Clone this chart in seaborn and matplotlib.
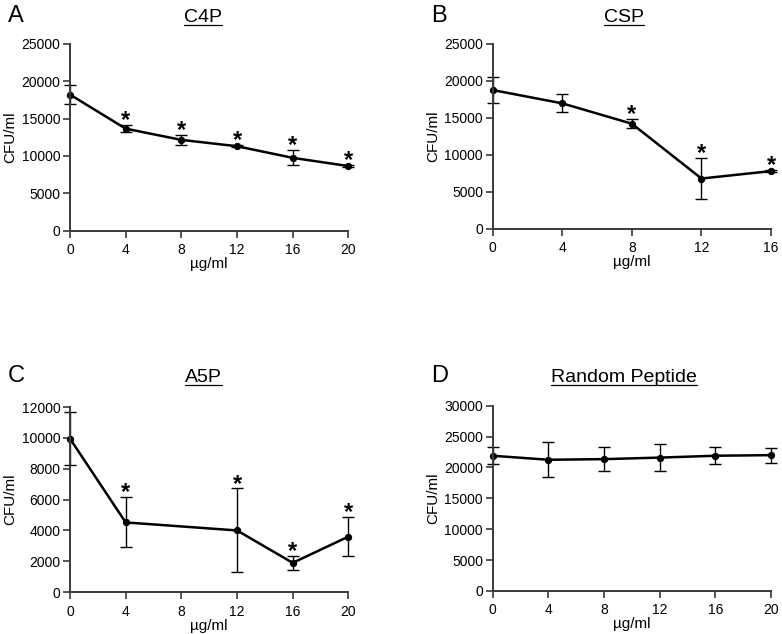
import matplotlib
matplotlib.use("Agg")
import matplotlib.pyplot as plt
import seaborn as sns
import pandas as pd
from matplotlib.lines import Line2D

sns.set_style("ticks")
plt.rcParams["font.family"] = ["Liberation Sans", "DejaVu Sans"]
plt.rcParams["text.color"] = "black"
plt.rcParams["axes.labelcolor"] = "black"

# panel A - C4P
c4p_dose = [0, 4, 8, 12, 16, 20]
c4p_cfu = [18200, 13650, 12150, 11300, 9750, 8650]
c4p_err = [1300, 450, 650, 150, 1000, 100]
c4p_sig = [False, True, True, True, True, True]

# panel B - CSP
csp_dose = [0, 4, 8, 12, 16]
csp_cfu = [18750, 16950, 14200, 6800, 7800]
csp_err = [1800, 1200, 600, 2750, 100]
csp_sig = [False, False, True, True, True]

# panel C - A5P
a5p_dose = [0, 4, 12, 16, 20]
a5p_cfu = [9950, 4520, 4000, 1900, 3600]
a5p_err = [1700, 1620, 2720, 470, 1270]
a5p_sig = [False, True, True, True, True]

# panel D - random peptide
rnd_dose = [0, 4, 8, 12, 16, 20]
rnd_cfu = [21900, 21250, 21350, 21600, 21900, 22000]
rnd_err = [1400, 2800, 2000, 2200, 1400, 1200]
rnd_sig = [False] * 6

panels = [
    ("A", "C4P", c4p_dose, c4p_cfu, c4p_err, c4p_sig, 25000, 5000, [0, 4, 8, 12, 16, 20]),
    ("B", "CSP", csp_dose, csp_cfu, csp_err, csp_sig, 25000, 5000, [0, 4, 8, 12, 16]),
    ("C", "A5P", a5p_dose, a5p_cfu, a5p_err, a5p_sig, 12000, 2000, [0, 4, 8, 12, 16, 20]),
    ("D", "Random Peptide", rnd_dose, rnd_cfu, rnd_err, rnd_sig, 30000, 5000, [0, 4, 8, 12, 16, 20]),
]

# axes rectangles in figure fractions (left, bottom, width, height)
rects = [
    (0.0895, 0.636, 0.356, 0.295),
    (0.630, 0.639, 0.356, 0.292),
    (0.0895, 0.066, 0.356, 0.292),
    (0.630, 0.068, 0.356, 0.292),
]
# letter x, title x center, text baseline y (figure fractions)
labels_pos = [
    (0.010, 0.260, 0.965),
    (0.551, 0.798, 0.965),
    (0.010, 0.260, 0.397),
    (0.551, 0.798, 0.397),
]

fig = plt.figure(figsize=(7.82, 6.34), dpi=100)
spine_col = "#3a3a3a"
titles = []

for (letter, title, dose, cfu, err, sig, ymax, ystep, xt), rect, (lx, tx, ty) in zip(panels, rects, labels_pos):
    ax = fig.add_axes(rect)
    df = pd.DataFrame({"dose": dose, "cfu": cfu})
    sns.lineplot(data=df, x="dose", y="cfu", ax=ax, color="black", linewidth=1.8,
                 marker="o", markersize=4.5, markeredgecolor="black", clip_on=False)
    ax.errorbar(dose, cfu, yerr=err, fmt="none", ecolor="black", elinewidth=1.0,
                capsize=4.5, capthick=1.0, clip_on=False)
    for x, y, e, s in zip(dose, cfu, err, sig):
        if s:
            ax.annotate("*", (x, y + e), xytext=(0, -1.5), textcoords="offset points",
                        ha="center", va="baseline", fontsize=17, fontweight="bold",
                        annotation_clip=False)
    ax.set_xlim(0, xt[-1])
    ax.set_ylim(0, ymax)
    ax.set_xticks(xt)
    ax.set_yticks(range(0, ymax + 1, ystep))
    ax.set_xlabel("\u00b5g/ml", fontsize=11, labelpad=0)
    ax.set_ylabel("CFU/ml", fontsize=11, labelpad=3)
    ax.tick_params(labelsize=10, length=5, width=1.2, color=spine_col, labelcolor="black")
    ax.tick_params(axis="x", pad=4)
    ax.tick_params(axis="y", pad=2)
    sns.despine(ax=ax)
    for sp in ("left", "bottom"):
        ax.spines[sp].set_linewidth(1.4)
        ax.spines[sp].set_color(spine_col)
    fig.text(lx, ty, letter, fontsize=17, va="baseline", ha="left")
    t = fig.text(tx, ty, title, fontsize=14, va="baseline", ha="center")
    titles.append((t, ty))

# underline the panel titles
fig.canvas.draw()
renderer = fig.canvas.get_renderer()
W, H = fig.bbox.width, fig.bbox.height
for t, ty in titles:
    bb = t.get_window_extent(renderer)
    yl = ty - 2.5 / H
    fig.add_artist(Line2D([bb.x0 / W, bb.x1 / W], [yl, yl], color="black", linewidth=0.9))

fig.savefig("out.png", dpi=100)
